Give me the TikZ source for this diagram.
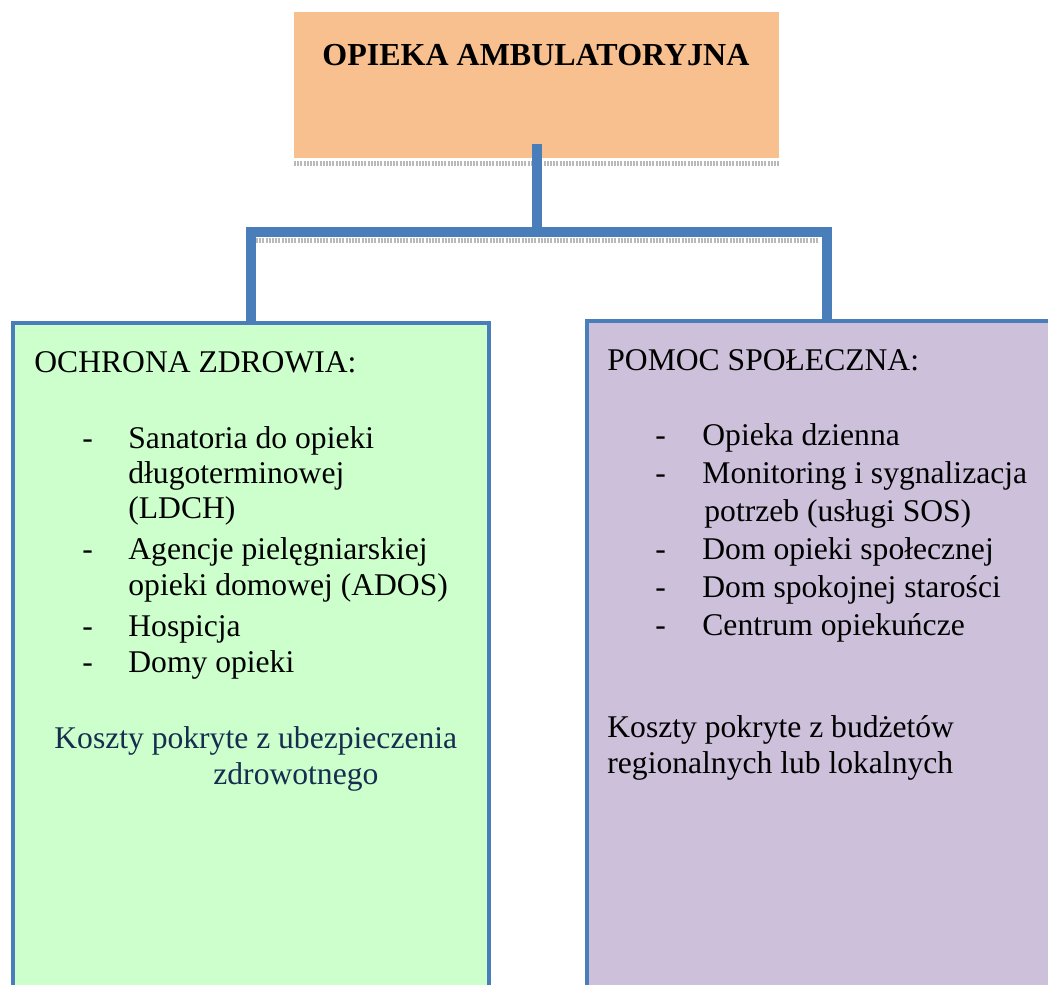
\documentclass[tikz,border=0pt]{standalone}
\usepackage{fontspec}
\setmainfont{Liberation Serif}
\definecolor{peach}{RGB}{249,192,143}
\definecolor{mint}{RGB}{204,255,204}
\definecolor{lilac}{RGB}{204,192,218}
\definecolor{lineblue}{RGB}{74,126,187}
\definecolor{navy}{RGB}{23,45,80}
\definecolor{shadowgray}{RGB}{185,185,185}
\begin{document}
\begin{tikzpicture}[x=0.5pt,y=-0.5pt,
  txt/.style={anchor=base west, inner sep=0pt, font=\fontsize{15.8}{18}\selectfont},
  titletxt/.style={anchor=base west, inner sep=0pt, font=\fontsize{16}{18}\selectfont\bfseries},
  conn/.style={draw=lineblue, line width=4.7pt, line join=miter},
  shadowline/.style={draw=shadowgray, line width=2.4pt, dash pattern=on 1pt off 0.6pt},
  headbox/.style={fill=peach, draw=none, anchor=north west, inner sep=0pt, minimum width=242.5pt, minimum height=73pt},
  sidebox/.style={draw=lineblue, line width=2pt, anchor=north west, inner sep=0pt, minimum width=238pt, minimum height=400pt}]
\useasboundingbox (0,0) rectangle (1048,984);
\clip (0,0) rectangle (1048,984);
% top box
\node[headbox] (top) at (294,12) {};
\draw[shadowline] (top.south west) ++(0,-2.5pt) coordinate (shl) -- (top.south east |- shl);
\node[titletxt] (title) at (322,66) {OPIEKA AMBULATORYJNA};
% lower boxes
\node[sidebox, fill=mint] (lbox) at (11,321) {};
\node[sidebox, fill=lilac, minimum width=240pt] (rbox) at (585,319) {};
% connectors
\coordinate (jn) at (537,232);
\draw[shadowline] (256,240.5) coordinate (s1) -- (819,240.5) coordinate (s2);
\draw[conn] ([yshift=7.5pt]top.south) -- (top.south |- jn);
\draw[conn] (lbox.north) -- (lbox.north |- jn) -- (rbox.north |- jn) -- (rbox.north);
% left text
\node[txt] (lhead) at (34,372) {OCHRONA ZDROWIA:};
\node[txt] (lb1) at (82,448) {-};
\node[txt] (l1a) at (128,448) {Sanatoria do opieki};
\node[txt] (l1b) at (128,483) {długoterminowej};
\node[txt] (l1c) at (128,518) {(LDCH)};
\node[txt] (lb2) at (82,559) {-};
\node[txt] (l2a) at (128,559) {Agencje pielęgniarskiej};
\node[txt] (l2b) at (128,595) {opieki domowej (ADOS)};
\node[txt] (lb3) at (82,636) {-};
\node[txt] (l3) at (128,636) {Hospicja};
\node[txt] (lb4) at (82,672) {-};
\node[txt] (l4) at (128,672) {Domy opieki};
\node[txt, text=navy] (lcost1) at (54,748) {Koszty pokryte z ubezpieczenia};
\node[txt, text=navy] (lcost2) at (213,784) {zdrowotnego};
% right text
\node[txt] (rhead) at (607,370) {POMOC SPOŁECZNA:};
\node[txt] (rb1) at (655,445) {-};
\node[txt] (r1) at (702,445) {Opieka dzienna};
\node[txt] (rb2) at (655,483) {-};
\node[txt] (r2a) at (702,483) {Monitoring i sygnalizacja};
\node[txt] (r2b) at (704,521) {potrzeb (usługi SOS)};
\node[txt] (rb3) at (655,559) {-};
\node[txt] (r3) at (702,559) {Dom opieki społecznej};
\node[txt] (rb4) at (655,597) {-};
\node[txt] (r4) at (702,597) {Dom spokojnej starości};
\node[txt] (rb5) at (655,635) {-};
\node[txt] (r5) at (702,635) {Centrum opiekuńcze};
\node[txt] (rcost1) at (607,737) {Koszty pokryte z budżetów};
\node[txt] (rcost2) at (607,773) {regionalnych lub lokalnych};
\end{tikzpicture}
\end{document}
